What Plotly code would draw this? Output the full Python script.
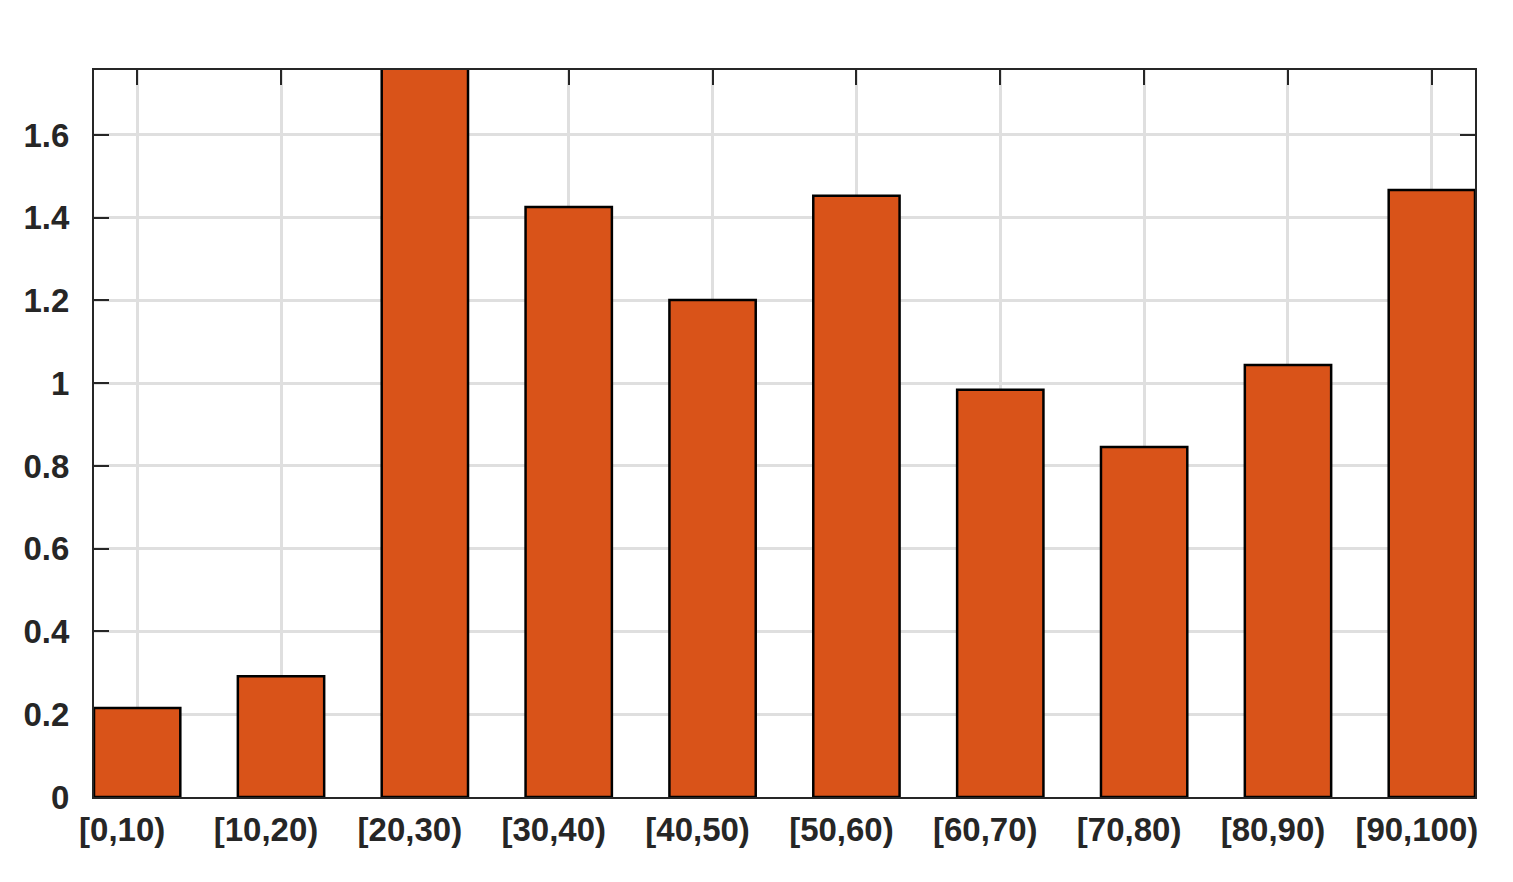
import plotly.graph_objects as go

# Bin labels and bar heights
bins = ["[0,10)", "[10,20)", "[20,30)", "[30,40)", "[40,50)",
        "[50,60)", "[60,70)", "[70,80)", "[80,90)", "[90,100)"]
values = [0.215, 0.292, 1.85, 1.426, 1.201, 1.453, 0.984, 0.846, 1.044, 1.467]
y_ticks = [0, 0.2, 0.4, 0.6, 0.8, 1, 1.2, 1.4, 1.6]
y_tick_labels = ["0", "0.2", "0.4", "0.6", "0.8", "1", "1.2", "1.4", "1.6"]

fig = go.Figure()
fig.add_trace(
    go.Bar(
        x=list(range(len(bins))),
        y=values,
        width=0.6,
        marker=dict(color="#D95319", line=dict(color="black", width=2.5)),
        showlegend=False,
    )
)

axis_common = dict(
    showline=True,
    linecolor="#262626",
    linewidth=2,
    mirror="ticks",
    ticks="inside",
    ticklen=15,
    tickwidth=2,
    tickcolor="#262626",
    showgrid=True,
    gridcolor="#DFDFDF",
    gridwidth=3,
    zeroline=False,
    layer="below traces",
)

fig.update_xaxes(
    range=[-0.3, 9.3],
    tickmode="array",
    tickvals=list(range(len(bins))),
    ticktext=bins,
    ticklabelshift=-15,
    ticklabelstandoff=2,
    **axis_common,
)
fig.update_yaxes(
    range=[0, 1.757],
    tickmode="array",
    tickvals=y_ticks,
    ticktext=y_tick_labels,
    ticklabelstandoff=16,
    **axis_common,
)

# page body adds an 8px offset, so the figure is trimmed by 8px
fig.update_layout(
    width=1505,
    height=874,
    margin=dict(l=86, r=38, t=62, b=85, autoexpand=False),
    plot_bgcolor="white",
    paper_bgcolor="white",
    font=dict(family="Liberation Sans", size=33, color="#262626", weight="bold"),
    bargap=0.4,
)

fig.write_html("out.html")
